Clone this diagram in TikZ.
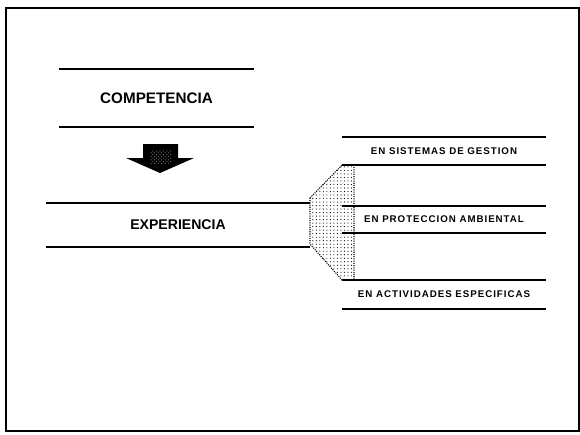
\documentclass[tikz,border=0pt]{standalone}
\usepackage{fontspec}
\setmainfont{Liberation Sans}
\newfontfamily\spacedfont[LetterSpace=10]{Liberation Sans}
\usepackage{tikz}
\usetikzlibrary{patterns}

\begin{document}
\begin{tikzpicture}[x=0.03cm, y=-0.03cm,
    every node/.style={align=center, inner sep=0pt, outer sep=0pt},
    bigband/.style={font=\fontsize{13}{15}\selectfont\bfseries},
    midband/.style={font=\fontsize{12}{14}\selectfont\bfseries},
    smallband/.style={font=\spacedfont\fontsize{8.3}{10}\selectfont\bfseries,
                      minimum width=6.12cm},
    bandline/.style={line width=1.4pt}]
  \useasboundingbox (0,0) rectangle (580,434);
  \draw[line width=1.6pt] (6,8) rectangle (579,431);

  \node[bigband, minimum width=5.85cm, minimum height=1.74cm]
    (comp) at (156.5,98) {COMPETENCIA};
  \node[midband, minimum width=7.92cm, minimum height=1.32cm]
    (exp) at (178,225) {EXPERIENCIA};
  \node[smallband, minimum height=0.84cm] (sis) at (444,151)
    {EN SISTEMAS DE GESTION};
  \node[smallband, minimum height=0.81cm] (pro) at (444,219.5)
    {EN PROTECCION AMBIENTAL};
  \node[smallband, minimum height=0.87cm] (act) at (444,294.5)
    {EN ACTIVIDADES ESPECIFICAS};

  \fill[black]
    (143,144) -- (178,144) -- (178,158) -- (194,158) -- (160,173)
    -- (126,158) -- (143,158) -- cycle;
  \path[pattern=crosshatch dots, pattern color=white!50!black] (150,150) rectangle (171,163);

  \draw[densely dotted, line width=0.9pt, pattern=dots, pattern color=black]
    (exp.east |- 0,198) -- (sis.south west) -- (354,165) -- (354,280)
    -- (act.north west) -- (exp.east |- 0,244) -- cycle;

  \foreach \n in {comp,exp,sis,pro,act}
    \draw[bandline] (\n.north west) -- (\n.north east)
                    (\n.south west) -- (\n.south east);
\end{tikzpicture}
\end{document}
